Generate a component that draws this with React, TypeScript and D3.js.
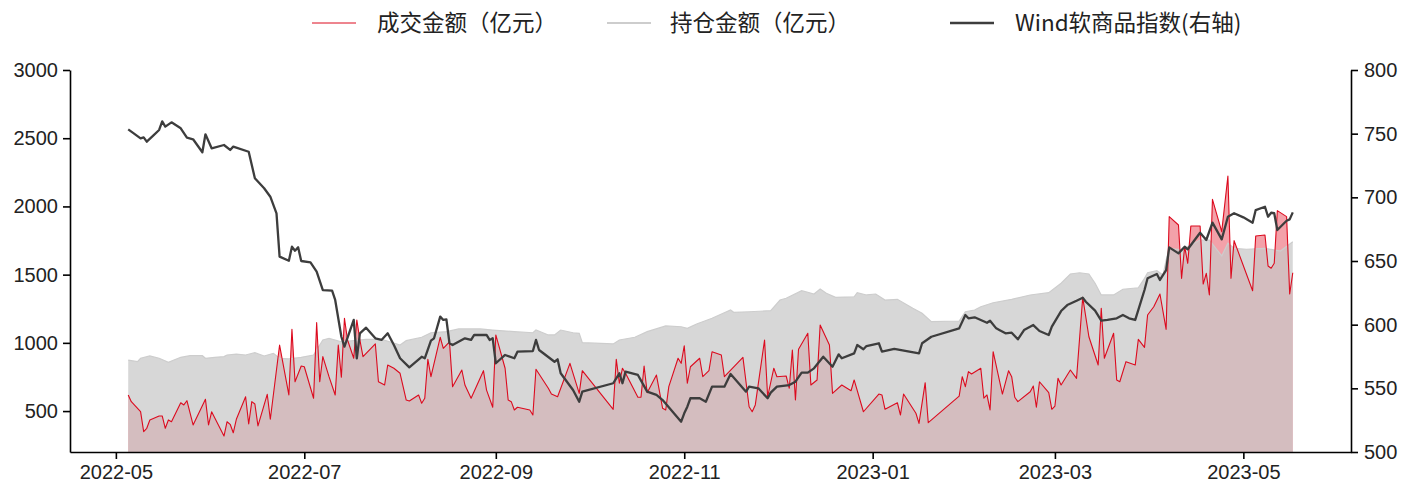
import React, { useEffect, useRef } from 'react';
import * as d3 from 'd3';

// 成交金额（亿元）
const turnoverDates = ['2022-05-05','2022-05-06','2022-05-09','2022-05-10','2022-05-11','2022-05-12','2022-05-15','2022-05-16','2022-05-17','2022-05-18','2022-05-19','2022-05-22','2022-05-23','2022-05-24','2022-05-26','2022-05-30','2022-05-31','2022-06-01','2022-06-05','2022-06-06','2022-06-07','2022-06-08','2022-06-09','2022-06-12','2022-06-13','2022-06-14','2022-06-15','2022-06-16','2022-06-19','2022-06-20','2022-06-23','2022-06-26','2022-06-27','2022-06-28','2022-06-30','2022-07-01','2022-07-04','2022-07-05','2022-07-06','2022-07-07','2022-07-09','2022-07-11','2022-07-12','2022-07-13','2022-07-14','2022-07-15','2022-07-17','2022-07-18','2022-07-19','2022-07-20','2022-07-24','2022-07-25','2022-07-27','2022-07-28','2022-07-30','2022-08-01','2022-08-03','2022-08-04','2022-08-07','2022-08-08','2022-08-09','2022-08-10','2022-08-11','2022-08-14','2022-08-15','2022-08-17','2022-08-18','2022-08-21','2022-08-22','2022-08-24','2022-08-28','2022-08-29','2022-08-31','2022-09-01','2022-09-04','2022-09-05','2022-09-06','2022-09-07','2022-09-08','2022-09-12','2022-09-13','2022-09-14','2022-09-18','2022-09-19','2022-09-21','2022-09-25','2022-09-28','2022-09-29','2022-10-09','2022-10-10','2022-10-11','2022-10-12','2022-10-13','2022-10-17','2022-10-18','2022-10-19','2022-10-20','2022-10-23','2022-10-25','2022-10-26','2022-10-27','2022-10-30','2022-10-31','2022-11-01','2022-11-02','2022-11-03','2022-11-06','2022-11-07','2022-11-09','2022-11-10','2022-11-13','2022-11-14','2022-11-20','2022-11-22','2022-11-23','2022-11-24','2022-11-27','2022-11-28','2022-11-30','2022-12-01','2022-12-04','2022-12-05','2022-12-06','2022-12-07','2022-12-08','2022-12-11','2022-12-12','2022-12-14','2022-12-15','2022-12-18','2022-12-19','2022-12-22','2022-12-25','2022-12-26','2022-12-29','2023-01-03','2023-01-04','2023-01-05','2023-01-09','2023-01-10','2023-01-11','2023-01-15','2023-01-16','2023-01-18','2023-01-19','2023-01-29','2023-01-30','2023-01-31','2023-02-01','2023-02-02','2023-02-05','2023-02-06','2023-02-07','2023-02-08','2023-02-09','2023-02-12','2023-02-14','2023-02-15','2023-02-16','2023-02-17','2023-02-21','2023-02-22','2023-02-23','2023-02-24','2023-02-27','2023-02-28','2023-03-01','2023-03-02','2023-03-03','2023-03-06','2023-03-08','2023-03-10','2023-03-12','2023-03-15','2023-03-16','2023-03-17','2023-03-20','2023-03-21','2023-03-22','2023-03-24','2023-03-27','2023-03-28','2023-03-30','2023-03-31','2023-04-02','2023-04-04','2023-04-06','2023-04-07','2023-04-10','2023-04-11','2023-04-12','2023-04-13','2023-04-14','2023-04-17','2023-04-18','2023-04-19','2023-04-20','2023-04-21','2023-04-24','2023-04-26','2023-04-27','2023-04-28','2023-05-04','2023-05-05','2023-05-08','2023-05-09','2023-05-10','2023-05-11','2023-05-12','2023-05-15','2023-05-16','2023-05-17'];
const turnoverValues = [618,569,496,349,374,435,464,464,374,435,422,561,545,576,398,586,398,495,317,422,403,341,440,605,405,569,552,391,623,440,984,618,1099,715,830,825,594,1148,715,899,752,618,984,748,1180,1021,887,1168,1021,899,992,715,691,838,814,777,581,574,618,557,594,880,752,1041,960,1008,679,801,691,594,796,654,528,1058,814,581,569,508,528,508,471,806,667,625,605,850,630,796,513,880,704,814,777,601,601,830,635,764,520,508,679,887,850,979,704,825,887,752,796,935,911,752,894,532,495,545,1021,605,814,752,757,667,948,581,953,1070,691,728,1131,984,630,691,649,728,495,625,618,513,561,471,625,484,410,708,415,610,752,679,789,772,814,594,618,508,935,625,796,752,601,569,642,684,528,715,635,513,537,740,691,801,740,1334,1045,838,1253,887,1070,728,715,862,838,1026,967,1204,1265,1358,1099,1925,1864,1473,1705,1583,1857,1857,1431,1510,1351,2052,1815,2223,1473,1749,1382,1783,1791,1563,1547,1583,1969,1925,1358,1514];

// 持仓金额（亿元）
const oiDates = ['2022-05-05','2022-05-08','2022-05-09','2022-05-12','2022-05-15','2022-05-18','2022-05-22','2022-05-25','2022-05-29','2022-05-30','2022-06-02','2022-06-05','2022-06-06','2022-06-09','2022-06-12','2022-06-15','2022-06-18','2022-06-21','2022-06-23','2022-06-26','2022-06-30','2022-07-04','2022-07-07','2022-07-09','2022-07-13','2022-07-21','2022-07-26','2022-07-30','2022-08-01','2022-08-03','2022-08-08','2022-08-11','2022-08-16','2022-08-20','2022-08-27','2022-08-31','2022-09-07','2022-09-13','2022-09-14','2022-09-18','2022-09-20','2022-09-22','2022-09-26','2022-09-28','2022-09-29','2022-10-09','2022-10-11','2022-10-16','2022-10-20','2022-10-26','2022-10-31','2022-11-02','2022-11-05','2022-11-10','2022-11-16','2022-11-17','2022-11-22','2022-11-29','2022-12-02','2022-12-04','2022-12-09','2022-12-11','2022-12-13','2022-12-15','2022-12-17','2022-12-20','2022-12-26','2022-12-27','2022-12-30','2023-01-02','2023-01-05','2023-01-09','2023-01-14','2023-01-17','2023-01-20','2023-01-29','2023-01-31','2023-02-03','2023-02-05','2023-02-09','2023-02-15','2023-02-21','2023-02-27','2023-03-03','2023-03-06','2023-03-09','2023-03-12','2023-03-14','2023-03-16','2023-03-20','2023-03-23','2023-03-28','2023-03-30','2023-03-31','2023-04-03','2023-04-05','2023-04-06','2023-04-07','2023-04-11','2023-04-14','2023-04-17','2023-04-20','2023-04-24','2023-04-26','2023-04-28','2023-05-02','2023-05-08','2023-05-13','2023-05-17'];
const oiValues = [874,862,887,904,887,857,894,906,906,887,894,899,911,918,911,928,904,923,887,882,894,911,1021,1033,1008,1026,1026,999,984,1016,1041,1074,1082,1102,1102,1094,1082,1074,1094,1058,1058,1094,1074,1070,1001,992,1021,1041,1082,1124,1118,1107,1138,1180,1241,1224,1228,1236,1314,1327,1382,1371,1358,1395,1363,1334,1338,1368,1351,1358,1314,1319,1253,1217,1155,1160,1228,1241,1265,1294,1319,1351,1368,1437,1505,1514,1505,1437,1351,1351,1393,1404,1473,1514,1529,1497,1607,1693,1681,1717,1754,1754,1637,1730,1693,1686,1693,1673,1741];

// Wind软商品指数(右轴)
const indexDates = ['2022-05-05','2022-05-09','2022-05-10','2022-05-11','2022-05-13','2022-05-15','2022-05-16','2022-05-17','2022-05-19','2022-05-22','2022-05-24','2022-05-26','2022-05-29','2022-05-30','2022-06-01','2022-06-05','2022-06-07','2022-06-08','2022-06-13','2022-06-15','2022-06-18','2022-06-20','2022-06-22','2022-06-23','2022-06-26','2022-06-27','2022-06-28','2022-06-29','2022-06-30','2022-07-03','2022-07-05','2022-07-07','2022-07-10','2022-07-11','2022-07-13','2022-07-14','2022-07-17','2022-07-18','2022-07-19','2022-07-21','2022-07-24','2022-07-26','2022-07-28','2022-07-30','2022-08-01','2022-08-04','2022-08-08','2022-08-09','2022-08-11','2022-08-12','2022-08-14','2022-08-15','2022-08-16','2022-08-17','2022-08-18','2022-08-22','2022-08-24','2022-08-25','2022-08-29','2022-08-30','2022-08-31','2022-09-01','2022-09-04','2022-09-07','2022-09-08','2022-09-13','2022-09-14','2022-09-15','2022-09-20','2022-09-21','2022-09-22','2022-09-26','2022-09-28','2022-09-29','2022-10-09','2022-10-11','2022-10-12','2022-10-13','2022-10-17','2022-10-20','2022-10-23','2022-10-25','2022-10-31','2022-11-01','2022-11-02','2022-11-03','2022-11-06','2022-11-08','2022-11-10','2022-11-14','2022-11-16','2022-11-21','2022-11-22','2022-11-25','2022-11-28','2022-11-29','2022-12-01','2022-12-05','2022-12-07','2022-12-09','2022-12-11','2022-12-13','2022-12-16','2022-12-19','2022-12-21','2022-12-22','2022-12-26','2022-12-27','2022-12-29','2022-12-30','2023-01-03','2023-01-04','2023-01-08','2023-01-12','2023-01-16','2023-01-17','2023-01-20','2023-01-29','2023-01-31','2023-02-01','2023-02-03','2023-02-07','2023-02-08','2023-02-10','2023-02-11','2023-02-13','2023-02-15','2023-02-17','2023-02-19','2023-02-22','2023-02-24','2023-02-27','2023-02-28','2023-03-03','2023-03-05','2023-03-08','2023-03-10','2023-03-11','2023-03-14','2023-03-16','2023-03-18','2023-03-21','2023-03-23','2023-03-25','2023-03-27','2023-03-30','2023-03-31','2023-04-03','2023-04-04','2023-04-06','2023-04-07','2023-04-10','2023-04-12','2023-04-13','2023-04-17','2023-04-19','2023-04-21','2023-04-24','2023-04-26','2023-04-28','2023-05-01','2023-05-04','2023-05-05','2023-05-08','2023-05-09','2023-05-10','2023-05-11','2023-05-12','2023-05-15','2023-05-16','2023-05-17'];
const indexValues = [753.4,746.3,747.1,743.7,748.2,752.9,759.7,755.5,758.9,754.2,746.8,745.6,735.4,749.5,738.5,741.1,737.2,739.8,735.8,715.0,707.1,700.5,687.4,653.4,650.2,661.2,658.1,660.8,650.0,649.0,641.6,627.2,626.7,619.4,590.5,582.7,603.7,573.6,593.2,597.6,589.3,588.0,593.2,584.0,573.6,566.5,574.8,573.6,587.4,589.3,606.3,603.7,604.2,585.4,584.0,589.3,588.0,591.9,591.9,588.0,589.3,569.7,576.2,573.6,578.8,579.3,588.0,580.1,570.9,572.8,561.8,548.7,539.5,547.4,554.0,561.8,554.0,563.1,560.5,547.4,544.8,540.8,523.8,530.4,535.6,542.2,542.2,539.5,551.3,551.3,561.3,547.4,551.3,550.0,542.2,546.6,551.3,552.6,555.2,562.3,562.3,565.7,574.8,567.0,576.7,573.6,577.5,584.0,580.7,583.2,585.4,578.8,580.9,579.3,577.5,585.4,590.5,597.1,607.6,605.0,605.8,601.5,603.1,597.1,595.8,593.2,593.7,588.5,595.8,599.7,595.0,591.9,598.4,610.7,615.4,618.8,621.2,618.0,611.0,603.1,603.7,605.0,607.6,605.0,603.7,627.2,636.4,639.8,635.1,642.9,660.7,656.0,661.2,659.2,672.2,666.5,680.1,667.0,684.8,687.5,684.3,680.1,690.0,692.6,684.8,687.9,687.5,674.3,681.6,682.7,688.2];

const leftTicks = [500, 1000, 1500, 2000, 2500, 3000];
const rightTicks = [500, 550, 600, 650, 700, 750, 800];
const xTickLabels = ['2022-05', '2022-07', '2022-09', '2022-11', '2023-01', '2023-03', '2023-05'];
const legendLabels = ['成交金额（亿元）', '持仓金额（亿元）', 'Wind软商品指数(右轴)'];

const W = 1418;
const H = 488;
const PL = 70, PR = 1351, PT = 70, PB = 452;
const RED = '#dc0a1e';
const DARK = '#3d3d3d';
const TXT = '#222';

export default function App() {
  const ref = useRef<SVGSVGElement>(null);

  useEffect(() => {
    const svg = d3.select(ref.current);
    svg.selectAll('*').remove();
    const parse = d3.timeParse('%Y-%m-%d');
    const turnover = turnoverDates.map((d, i) => ({ d: parse(d)!, v: turnoverValues[i] }));
    const oi = oiDates.map((d, i) => ({ d: parse(d)!, v: oiValues[i] }));
    const idx = indexDates.map((d, i) => ({ d: parse(d)!, v: indexValues[i] }));

    const t0 = parse(turnoverDates[0])!.getTime();
    const t1 = parse(turnoverDates[turnoverDates.length - 1])!.getTime();
    const pad = (t1 - t0) * 0.05;
    const x = d3.scaleTime().domain([new Date(t0 - pad), new Date(t1 + pad)]).range([PL, PR]);
    const yL = d3.scaleLinear().domain([200, 3000]).range([PB, PT]);
    const yR = d3.scaleLinear().domain([500, 800]).range([PB, PT]);

    const areaL = d3.area<{ d: Date; v: number }>().x(p => x(p.d)).y0(PB).y1(p => yL(p.v));
    const lineL = d3.line<{ d: Date; v: number }>().x(p => x(p.d)).y(p => yL(p.v));
    const lineR = d3.line<{ d: Date; v: number }>().x(p => x(p.d)).y(p => yR(p.v));

    svg.append('path').attr('d', areaL(turnover)!).attr('fill', 'rgb(225,20,40)').attr('fill-opacity', 0.4);
    svg.append('path').attr('d', areaL(oi)!).attr('fill', 'rgb(200,200,200)').attr('fill-opacity', 0.72);
    svg.append('path').attr('d', lineL(oi)!).attr('fill', 'none').attr('stroke', 'rgb(205,205,205)').attr('stroke-width', 1.2);
    svg.append('path').attr('d', lineL(turnover)!).attr('fill', 'none').attr('stroke', RED).attr('stroke-width', 1.1).attr('stroke-linejoin', 'round');
    svg.append('path').attr('d', lineR(idx)!).attr('fill', 'none').attr('stroke', DARK).attr('stroke-width', 2.3).attr('stroke-linejoin', 'round');

    const font = '"Liberation Sans", Arial, sans-serif';
    const gL = svg.append('g').attr('transform', `translate(${PL},0)`)
      .call(d3.axisLeft(yL).tickValues(leftTicks).tickSize(7).tickSizeOuter(0).tickPadding(5).tickFormat(d3.format('d')));
    const gR = svg.append('g').attr('transform', `translate(${PR},0)`)
      .call(d3.axisRight(yR).tickValues(rightTicks).tickSize(7).tickSizeOuter(0).tickPadding(6).tickFormat(d3.format('d')));
    const xTicks = xTickLabels.map(s => parse(s + '-01')!);
    const gB = svg.append('g').attr('transform', `translate(0,${PB})`)
      .call(d3.axisBottom(x).tickValues(xTicks).tickSize(7).tickSizeOuter(0).tickPadding(6).tickFormat(d3.timeFormat('%Y-%m') as any));
    [gL, gR, gB].forEach(g => {
      g.select('.domain').attr('stroke', '#000').attr('stroke-width', 1.6);
      g.selectAll('.tick line').attr('stroke', '#000').attr('stroke-width', 1.6);
      g.selectAll('.tick text').attr('fill', TXT).style('font-family', font).style('font-size', '20px');
    });

    const lg = svg.append('g');
    const items = [
      { x: 312, color: RED, w: 1, tx: 377 },
      { x: 607, color: 'rgb(205,205,205)', w: 2, tx: 670 },
      { x: 950, color: DARK, w: 2.5, tx: 1015 },
    ];
    items.forEach((it, i) => {
      lg.append('line').attr('x1', it.x).attr('x2', it.x + 44).attr('y1', 23).attr('y2', 23)
        .attr('stroke', it.color).attr('stroke-width', it.w);
      lg.append('text').attr('x', it.tx).attr('y', 23).attr('dy', '0.36em')
        .attr('fill', TXT).style('font-family', '"Noto Sans CJK SC", "Noto Sans", sans-serif').style('font-size', '22.5px')
        .text(legendLabels[i]);
    });
  }, []);

  return (
    <svg ref={ref} width={W} height={H} style={{ position: 'absolute', left: 0, top: 0, background: '#fff' }} />
  );
}
